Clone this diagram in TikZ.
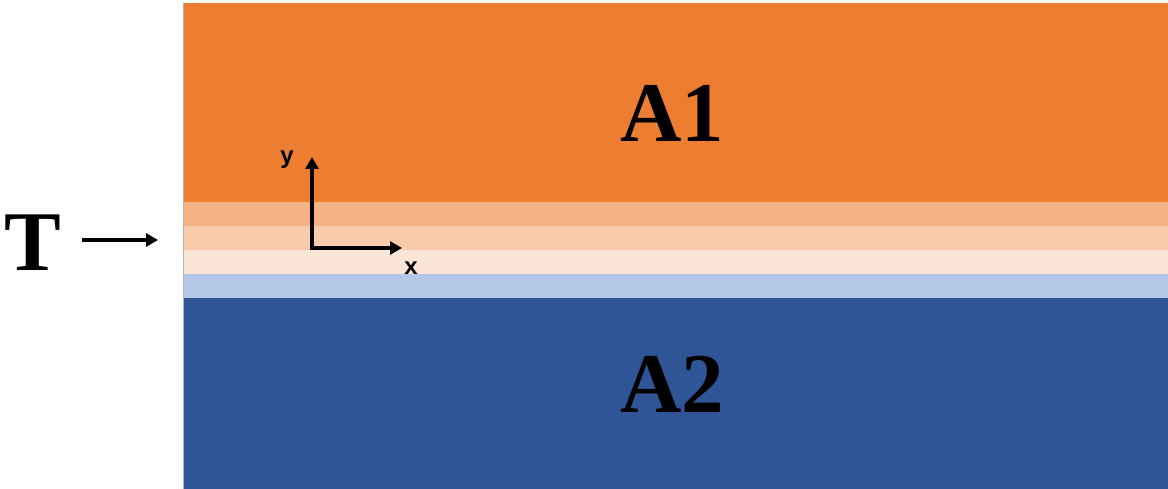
\documentclass[tikz,border=0pt]{standalone}
\usepackage{fontspec}
\setmainfont{Liberation Serif}
\setsansfont{Liberation Sans}
\usetikzlibrary{arrows.meta}
\definecolor{cA}{HTML}{ED7D31}
\definecolor{cB}{HTML}{F4B183}
\definecolor{cC}{HTML}{F8CBAD}
\definecolor{cD}{HTML}{FBE5D6}
\definecolor{cE}{HTML}{B4C7E7}
\definecolor{cF}{HTML}{2F5597}
\tikzset{
  big/.style={font=\fontsize{85}{85}\selectfont\bfseries, inner sep=0pt},
  axlab/.style={font=\sffamily\bfseries\fontsize{24}{24}\selectfont, inner sep=0pt},
  arr/.style={line width=3.4pt, -{Triangle[length=12pt,width=13pt]}}
}
\begin{document}
\begin{tikzpicture}[x=1pt,y=-1pt]
\useasboundingbox (0,0) rectangle (1168,489);
\fill[cA] (183,3) rectangle (1168,202);
\fill[cB] (183,202) rectangle (1168,226);
\fill[cC] (183,226) rectangle (1168,250);
\fill[cD] (183,250) rectangle (1168,274);
\fill[cE] (183,274) rectangle (1168,298);
\fill[cF] (183,298) rectangle (1168,489);
\draw[gray!60, line width=0.8pt] (183.4,3) -- (183.4,489);
\node[big] (a1) at (672,113) {A1};
\node[big] (a2) at (672,384) {A2};
\node[big] (t) at (33,243) {T};
\coordinate (ts) at (82,240);
\coordinate (te) at (158,240);
\draw[arr] (ts) -- (te);
\coordinate (o) at (312,248);
\coordinate (yt) at (312,157);
\coordinate (xt) at (402,248);
\draw[arr] (o) -- (yt);
\draw[arr] ([xshift=-1.7pt]o) -- (xt);
\node[axlab] (ylab) at (287,160) {y};
\node[axlab] (xlab) at (411,268) {x};
\end{tikzpicture}
\end{document}
